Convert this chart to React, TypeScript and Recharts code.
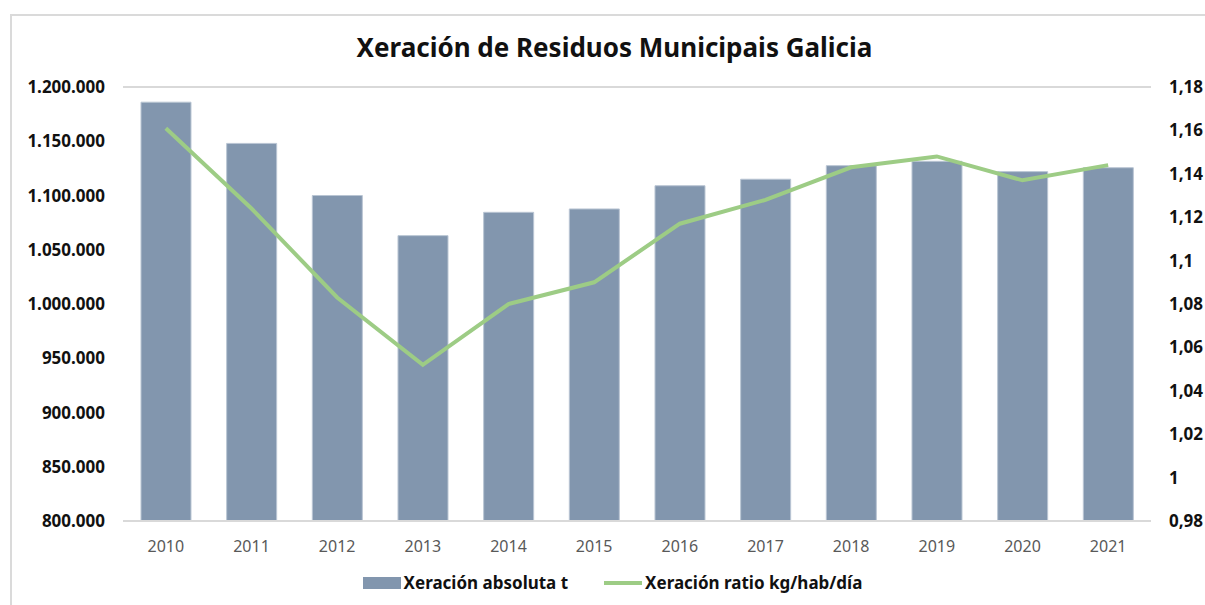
import React from "react";
import { ComposedChart, Bar, Line, XAxis, YAxis, CartesianGrid, Legend } from "recharts";

const years = ["2010", "2011", "2012", "2013", "2014", "2015", "2016", "2017", "2018", "2019", "2020", "2021"];
const absoluta = [1186000, 1148000, 1100000, 1063000, 1084500, 1087600, 1109000, 1115000, 1127500, 1131500, 1122000, 1125600];
const ratio = [1.161, 1.124, 1.083, 1.052, 1.080, 1.090, 1.117, 1.128, 1.143, 1.148, 1.137, 1.144];
const leftTicks = [800000, 850000, 900000, 950000, 1000000, 1050000, 1100000, 1150000, 1200000];
const rightTicks = [0.98, 1, 1.02, 1.04, 1.06, 1.08, 1.1, 1.12, 1.14, 1.16, 1.18];

const data = years.map((y, i) => ({ year: y, absoluta: absoluta[i], ratio: ratio[i] }));

const FONT = "'Noto Sans', sans-serif";
const BAR = "#8296AE";
const GREEN = "#9DCC85";

const fmtLeft = (v: number) => v.toLocaleString("de-DE");
const fmtRight = (v: number) => String(parseFloat(v.toFixed(2))).replace(".", ",");

function LegendBox() {
  return (
    <div style={{ display: "flex", justifyContent: "center", alignItems: "center", fontFamily: FONT, fontWeight: 700, fontSize: 17, color: "#111", paddingTop: 6, marginLeft: 12 }}>
      <span style={{ display: "inline-block", width: 38, height: 12, background: BAR, marginRight: 3 }} />
      <span style={{ marginRight: 36 }}>Xeración absoluta t</span>
      <span style={{ display: "inline-block", width: 38, height: 4, background: GREEN, marginRight: 3 }} />
      <span>Xeración ratio kg/hab/día</span>
    </div>
  );
}

export default function App() {
  return (
    <div style={{ position: "fixed", left: 0, top: 0, width: 1205, height: 605, overflow: "hidden", fontFamily: FONT, background: "#fff" }}>
      <div style={{ position: "absolute", left: 10, top: 14, width: 1230, height: 640, border: "2px solid #DADADA", boxSizing: "border-box" }} />
      <div style={{ position: "absolute", left: 0, top: 29, width: 1229, textAlign: "center", fontSize: 26, fontWeight: 700, color: "#111" }}>
        Xeración de Residuos Municipais Galicia
      </div>
      <div style={{ position: "absolute", left: 8, top: 8 }}>
        <ComposedChart width={1197} height={597} data={data} margin={{ top: 79, right: 0, bottom: 6, left: 0 }} barCategoryGap="21%">
          <CartesianGrid vertical={false} stroke="#D9D9D9" strokeWidth={2} />
          <XAxis dataKey="year" tickLine={false} axisLine={{ stroke: "#D9D9D9", strokeWidth: 2 }} tickMargin={14} height={44}
            tick={{ fontSize: 16, fill: "#595959", fontFamily: FONT }} />
          <YAxis yAxisId="left" domain={[800000, 1200000]} ticks={leftTicks} tickFormatter={fmtLeft} width={115}
            tickLine={false} axisLine={false} tickMargin={12} interval={0}
            tick={{ fontSize: 17, fill: "#111", fontWeight: 700, fontFamily: FONT }} />
          <YAxis yAxisId="right" orientation="right" domain={[0.98, 1.18]} ticks={rightTicks} tickFormatter={fmtRight} width={54}
            tickLine={false} axisLine={false} tickMargin={12} interval={0}
            tick={{ fontSize: 17, fill: "#111", fontWeight: 700, fontFamily: FONT, textAnchor: "start" }} />
          <Legend verticalAlign="bottom" height={34} content={() => <LegendBox />} />
          <Bar yAxisId="left" dataKey="absoluta" fill={BAR} stroke="#B9C5D3" strokeWidth={1} isAnimationActive={false} />
          <Line yAxisId="right" dataKey="ratio" type="linear" stroke={GREEN} strokeWidth={4} dot={false} isAnimationActive={false} />
        </ComposedChart>
      </div>
    </div>
  );
}
